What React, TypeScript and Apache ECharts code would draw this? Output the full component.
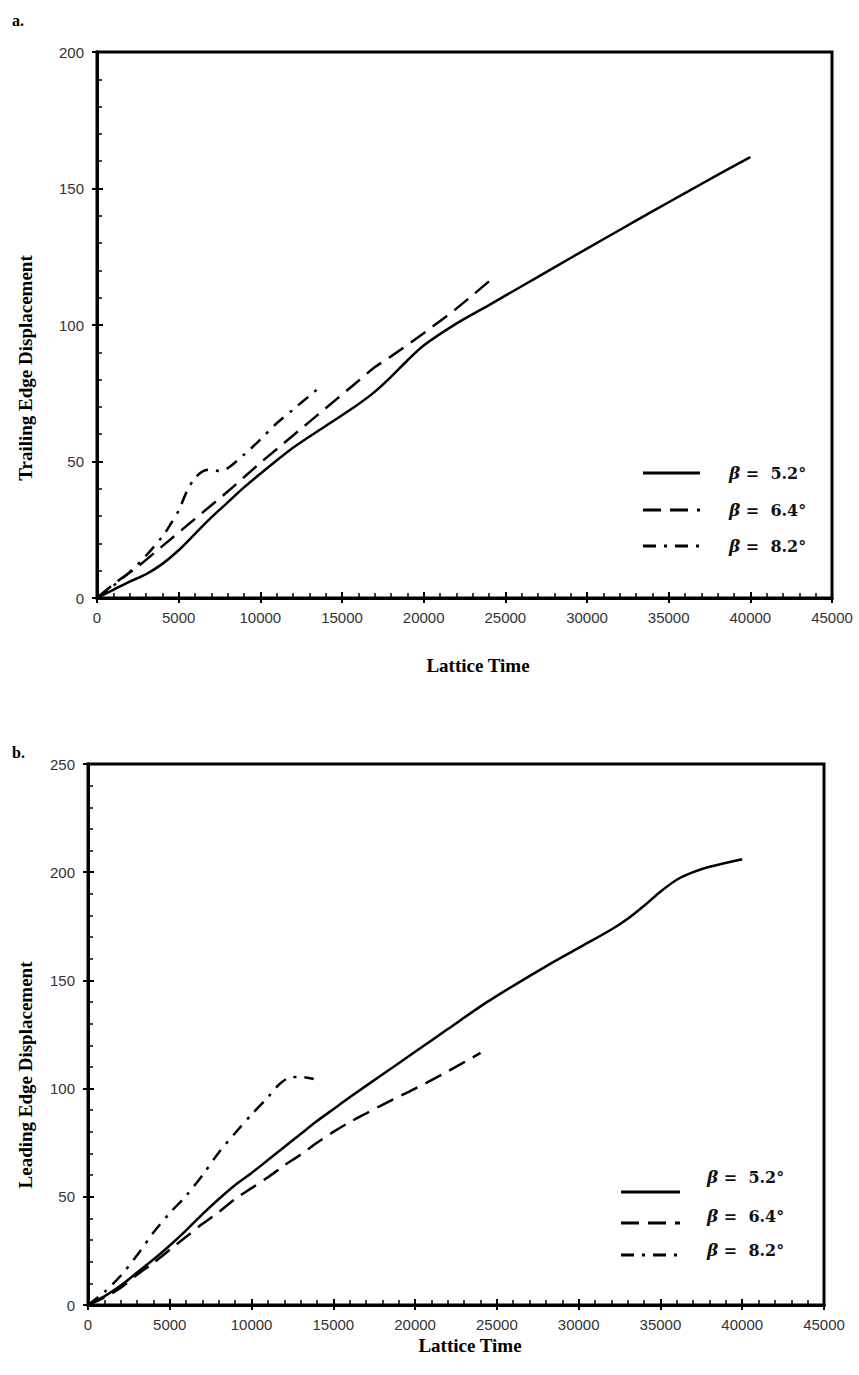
import React, { useEffect, useRef } from "react";
import * as echarts from "echarts";

// ---------- data ----------
// Panel a: Trailing edge displacement
const trailing52: [number, number][] = [
  [0, 0], [1000, 3], [2000, 6], [3000, 8.7], [4000, 12.5], [5000, 17.5], [6000, 23.5],
  [7000, 29.5], [8000, 35], [9000, 40.5], [10000, 45.5], [12000, 55], [14000, 63],
  [16000, 71], [17000, 75.5], [18000, 81], [19000, 87], [20000, 92.5], [22000, 100.5],
  [24000, 107.3], [26000, 114.2], [28000, 121.1], [30000, 128], [32000, 134.8],
  [34000, 141.6], [36000, 148.3], [38000, 155], [40000, 161.5],
];
const trailing64: [number, number][] = [
  [0, 0], [1000, 5], [2500, 11.5], [4000, 19], [6000, 29], [8000, 39], [10000, 49.5],
  [12000, 59.5], [14000, 69.5], [16000, 79.5], [17000, 84.5], [18000, 88.5],
  [20000, 97], [22000, 106], [24000, 116],
];
const trailing82: [number, number][] = [
  [0, 0], [1000, 4.5], [2000, 9.5], [3000, 15.5], [4000, 22.5], [4500, 27], [5000, 32],
  [5500, 39], [6000, 44], [6500, 46.5], [7000, 47], [7500, 46.5], [8000, 47.5],
  [9000, 52.5], [10000, 58], [11000, 64], [12000, 69], [13000, 74], [13700, 77.5],
];

// Panel b: Leading edge displacement
const leading52: [number, number][] = [
  [0, 0], [1000, 4], [2000, 9], [3000, 15], [4000, 21], [5000, 27.5], [6000, 34.5],
  [7000, 42], [8000, 49], [9000, 55.5], [10000, 61], [11000, 67], [12000, 73],
  [13000, 79], [14000, 85], [15000, 90.5], [16000, 96], [18000, 106.5], [20000, 117],
  [22000, 127.5], [24000, 138], [26000, 147.5], [28000, 156.5], [30000, 165],
  [32000, 173.5], [33000, 178.5], [34000, 184.5], [35000, 191], [36000, 196.5],
  [37000, 200], [38000, 202.5], [40000, 206],
];
const leading64: [number, number][] = [
  [0, 0], [1000, 3.5], [2000, 8], [3000, 14], [4000, 19.5], [5000, 25.5], [6000, 31.5],
  [7000, 37.5], [8000, 43], [9000, 49], [10000, 54], [11000, 59], [12000, 64.5],
  [13000, 69.5], [14000, 75], [15000, 80], [16000, 84.5], [17000, 88.5], [18000, 92.5],
  [20000, 100], [22000, 108], [24000, 116.5],
];
const leading82: [number, number][] = [
  [0, 0], [1000, 6], [2000, 13.5], [3000, 23], [4000, 33.5], [5000, 42.5], [6000, 50.5],
  [7000, 60], [8000, 70.5], [9000, 79.5], [10000, 88], [11000, 96], [11700, 102],
  [12300, 105], [13000, 105.4], [13800, 104.4],
];

const legendLabels = ["5.2°", "6.4°", "8.2°"];
const panelLabels = ["a.", "b."];
const yTitles = ["Trailing Edge Displacement", "Leading Edge Displacement"];
const xTitle = "Lattice Time";
const xMax = 45000;
const xStep = 5000;
const yMaxes = [200, 250];
const yStep = 50;

// ---------- styles ----------
const SERIF = '"Liberation Serif", "DejaVu Serif", serif';
const LEGEND_FONT = '"DejaVu Serif", "Liberation Serif", serif';
const SANS = '"Liberation Sans", Arial, sans-serif';
const DASHES: any[] = ["solid", [18, 9], [13, 8, 3, 8]];

function axisPair(kind: "x" | "y", gridIndex: number, max: number, interval: number) {
  const common = {
    type: "value",
    gridIndex,
    min: 0,
    max,
    interval,
    position: kind === "x" ? "bottom" : "left",
    splitLine: { show: false },
    axisLine: { show: true, lineStyle: { color: "#000", width: 3 } },
  };
  return [
    {
      ...common,
      axisTick: { show: true, inside: true, length: 6, lineStyle: { color: "#000", width: 2 } },
      minorTick: { show: true, splitNumber: 5, length: 5, lineStyle: { color: "#000", width: 1.5 } },
      axisLabel: { show: false },
    },
    {
      ...common,
      axisTick: { show: true, inside: false, length: 5, lineStyle: { color: "#000", width: 2 } },
      minorTick: { show: false },
      axisLabel: {
        show: true,
        margin: kind === "x" ? 12 : 13,
        color: "#333",
        fontFamily: SANS,
        fontSize: 15,
        formatter: (v: number) => String(v),
      },
    },
  ];
}

function lineSeries(data: [number, number][], idx: number, panel: number) {
  return {
    type: "line",
    xAxisIndex: panel * 2,
    yAxisIndex: panel * 2,
    data,
    showSymbol: false,
    smooth: 0.3,
    silent: true,
    lineStyle: { color: "#000", width: 2.5, type: DASHES[idx] },
  };
}

function legendGraphic(x0: number, x1: number, tx: number, lineYs: number[], textYs: number[]) {
  const els: any[] = [];
  legendLabels.forEach((lab, i) => {
    const dash = DASHES[i];
    els.push({
      type: "line",
      shape: { x1: x0, y1: lineYs[i], x2: x1, y2: lineYs[i] },
      style: { stroke: "#000", lineWidth: 3, lineDash: dash === "solid" ? null : dash },
      silent: true,
    });
    els.push({
      type: "text",
      x: tx,
      y: textYs[i],
      silent: true,
      style: {
        text: "{g|β} =  " + lab,
        font: "bold 16px " + LEGEND_FONT,
        fill: "#111",
        textAlign: "left",
        textVerticalAlign: "middle",
        rich: {
          g: { fontStyle: "italic", fontWeight: "bold", fontSize: 17, fontFamily: LEGEND_FONT, fill: "#111" },
        },
      },
    });
  });
  return els;
}

export default function App() {
  const ref = useRef<HTMLDivElement>(null);
  useEffect(() => {
    if (!ref.current) return;
    const chart = echarts.init(ref.current, undefined, { renderer: "svg" });

    const grids = [
      { left: 97, top: 52, width: 735, height: 546 },
      { left: 88, top: 764, width: 736, height: 541 },
    ].map((g) => ({ ...g, show: true, borderColor: "#000", borderWidth: 3, backgroundColor: "transparent" }));

    const xAxes = [...axisPair("x", 0, xMax, xStep), ...axisPair("x", 1, xMax, xStep)];
    const yAxes = [...axisPair("y", 0, yMaxes[0], yStep), ...axisPair("y", 1, yMaxes[1], yStep)];

    const series = [
      lineSeries(trailing52, 0, 0),
      lineSeries(trailing64, 1, 0),
      lineSeries(trailing82, 2, 0),
      lineSeries(leading52, 0, 1),
      lineSeries(leading64, 1, 1),
      lineSeries(leading82, 2, 1),
    ];

    const textStyle = (text: string, size: number) => ({
      text,
      font: "bold " + size + "px " + SERIF,
      fill: "#000",
      textAlign: "center",
      textVerticalAlign: "middle",
    });

    const graphic: any[] = [
      { type: "text", x: 12, y: 20, silent: true, style: { ...textStyle(panelLabels[0], 16), textAlign: "left" } },
      { type: "text", x: 12, y: 752, silent: true, style: { ...textStyle(panelLabels[1], 16), textAlign: "left" } },
      { type: "text", x: 25, y: 368, rotation: Math.PI / 2, silent: true, style: textStyle(yTitles[0], 19) },
      { type: "text", x: 25, y: 1075, rotation: Math.PI / 2, silent: true, style: textStyle(yTitles[1], 19) },
      { type: "text", x: 478, y: 665, silent: true, style: textStyle(xTitle, 19) },
      { type: "text", x: 470, y: 1345, silent: true, style: textStyle(xTitle, 19) },
      ...legendGraphic(643, 700, 729, [473, 510, 546], [473, 510, 546]),
      ...legendGraphic(621, 680, 707, [1192, 1223, 1255], [1177, 1216, 1250]),
    ];

    chart.setOption({
      animation: false,
      backgroundColor: "#fff",
      grid: grids,
      xAxis: xAxes,
      yAxis: yAxes,
      series,
      graphic,
    });
    return () => chart.dispose();
  }, []);

  return (
    <div
      ref={ref}
      style={{ position: "absolute", left: 0, top: 0, width: 859, height: 1375, background: "#fff" }}
    />
  );
}
